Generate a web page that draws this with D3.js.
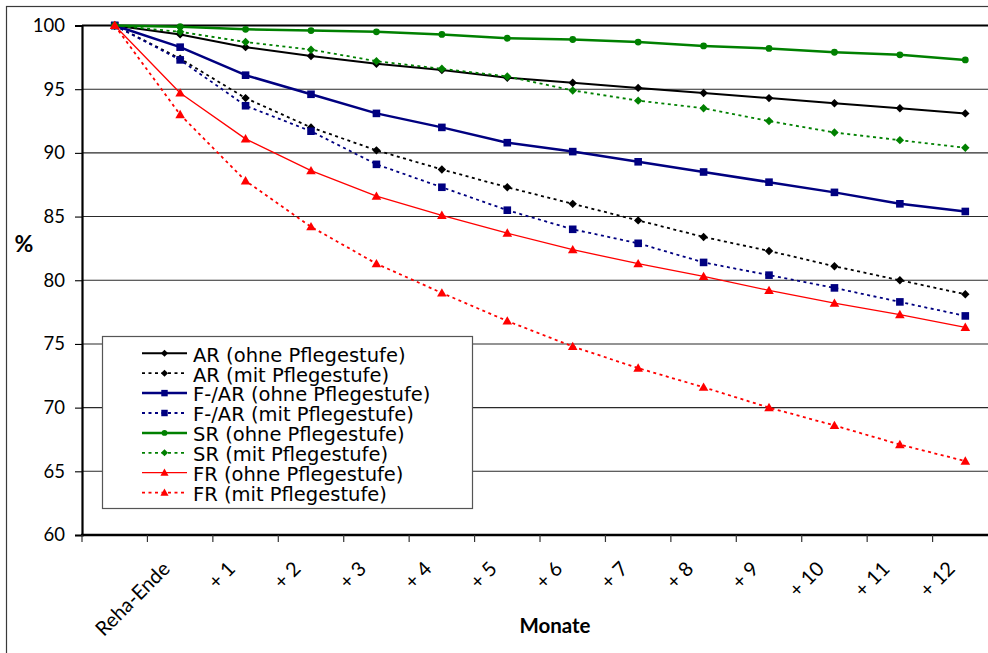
<!DOCTYPE html>
<html>
<head>
<meta charset="utf-8">
<script src="https://cdn.jsdelivr.net/npm/d3@7"></script>
<style>
  html, body { margin: 0; padding: 0; background: #fff; }
  svg { display: block; font-family: Lato, "Open Sans", sans-serif; }
</style>
</head>
<body>
<svg id="chart" width="988" height="653"></svg>
<script>
// ---- data ----
const categories = ["", "Reha-Ende", "+ 1", "+ 2", "+ 3", "+ 4", "+ 5", "+ 6", "+ 7", "+ 8", "+ 9", "+ 10", "+ 11", "+ 12"];
const yTicks = [60, 65, 70, 75, 80, 85, 90, 95, 100];
const seriesNames = [
  "AR (ohne Pflegestufe)", "AR (mit Pflegestufe)",
  "F-/AR (ohne Pflegestufe)", "F-/AR (mit Pflegestufe)",
  "SR (ohne Pflegestufe)", "SR (mit Pflegestufe)",
  "FR (ohne Pflegestufe)", "FR (mit Pflegestufe)"
];
const arOhne  = [100, 99.3, 98.3, 97.6, 97.0, 96.5, 95.9, 95.5, 95.1, 94.7, 94.3, 93.9, 93.5, 93.1];
const arMit   = [100, 97.4, 94.3, 92.0, 90.2, 88.7, 87.3, 86.0, 84.7, 83.4, 82.3, 81.1, 80.0, 78.9];
const farOhne = [100, 98.3, 96.1, 94.6, 93.1, 92.0, 90.8, 90.1, 89.3, 88.5, 87.7, 86.9, 86.0, 85.4];
const farMit  = [100, 97.3, 93.7, 91.7, 89.1, 87.3, 85.5, 84.0, 82.9, 81.4, 80.4, 79.4, 78.3, 77.2];
const srOhne  = [100, 99.9, 99.7, 99.6, 99.5, 99.3, 99.0, 98.9, 98.7, 98.4, 98.2, 97.9, 97.7, 97.3];
const srMit   = [100, 99.5, 98.7, 98.1, 97.2, 96.6, 96.0, 94.9, 94.1, 93.5, 92.5, 91.6, 91.0, 90.4];
const frOhne  = [100, 94.7, 91.1, 88.6, 86.6, 85.1, 83.7, 82.4, 81.3, 80.3, 79.2, 78.2, 77.3, 76.3];
const frMit   = [100, 93.0, 87.8, 84.2, 81.3, 79.0, 76.8, 74.8, 73.1, 71.6, 70.0, 68.6, 67.1, 65.8];

// ---- styles ----
const styles = [
  {values: arOhne,  color: "#000000", width: 2,   dash: null,    marker: "diamond", ms: 4.2},
  {values: arMit,   color: "#000000", width: 1.8, dash: "3,3.5", marker: "diamond", ms: 4.2},
  {values: farOhne, color: "#000080", width: 2.5, dash: null,    marker: "square",  ms: 3.8},
  {values: farMit,  color: "#000080", width: 1.8, dash: "3,3.5", marker: "square",  ms: 3.8},
  {values: srOhne,  color: "#008000", width: 2.5, dash: null,    marker: "circle",  ms: 3.4},
  {values: srMit,   color: "#008000", width: 1.8, dash: "3,3.5", marker: "diamond", ms: 4.2},
  {values: frOhne,  color: "#ff0000", width: 1.3, dash: null,    marker: "triangle",ms: 4.8},
  {values: frMit,   color: "#ff0000", width: 1.8, dash: "3,3.5", marker: "triangle",ms: 4.8}
];

function markerPath(type, r) {
  switch (type) {
    case "diamond": return `M0,${-r}L${r},0L0,${r}L${-r},0Z`;
    case "square": return `M${-r},${-r}H${r}V${r}H${-r}Z`;
    case "circle": return `M${r},0A${r},${r} 0 1,1 ${-r},0A${r},${r} 0 1,1 ${r},0Z`;
    case "triangle": return `M0,${-r}L${r},${r*0.75}L${-r},${r*0.75}Z`;
  }
}

const svg = d3.select("#chart");
const plotL = 82, plotR = 82 + 14 * 65.43, plotT = 25.5, plotB = 535;

// outer chart border
svg.append("rect").attr("x", 6.5).attr("y", 6.5).attr("width", 1100).attr("height", 700)
  .attr("fill", "#fff").attr("stroke", "#3a3a3a").attr("stroke-width", 1.2);

const x = d3.scalePoint().domain(categories).range([plotL, plotR]).padding(0.5);
const xb = d3.scaleBand().domain(categories).range([plotL, plotR]).paddingInner(0).paddingOuter(0);
const y = d3.scaleLinear().domain([60, 100]).range([plotB, plotT]);

// gridlines
svg.append("g").selectAll("line").data(yTicks.filter(t => t > 60 && t < 100)).join("line")
  .attr("x1", plotL).attr("x2", plotR).attr("y1", d => y(d)).attr("y2", d => y(d))
  .attr("stroke", "#2a2a2a").attr("stroke-width", 1.1);

// top border line
svg.append("line").attr("x1", plotL).attr("x2", plotR).attr("y1", y(100)).attr("y2", y(100))
  .attr("stroke", "#000").attr("stroke-width", 2);

// y axis
const yAxis = svg.append("g").attr("transform", `translate(${plotL},0)`)
  .call(d3.axisLeft(y).tickValues(yTicks).tickSize(7).tickPadding(10).tickFormat(d3.format("d")));
yAxis.select(".domain").attr("stroke", "#000").attr("stroke-width", 2.2);
yAxis.selectAll(".tick line").attr("stroke", "#000").attr("stroke-width", 1.1);
yAxis.selectAll(".tick text").attr("font-size", 18.5).attr("fill", "#000")
  .attr("font-family", "Lato, sans-serif");

// x axis line
svg.append("line").attr("x1", plotL - 1).attr("x2", plotR).attr("y1", plotB).attr("y2", plotB)
  .attr("stroke", "#000").attr("stroke-width", 2.4);
// x ticks at band boundaries
const bounds = categories.map(c => xb(c)).concat([plotR]);
svg.append("g").selectAll("line").data(bounds).join("line")
  .attr("x1", d => d).attr("x2", d => d).attr("y1", plotB).attr("y2", plotB + 7)
  .attr("stroke", "#333").attr("stroke-width", 1.2);
// x labels
svg.append("g").selectAll("text").data(categories.filter(c => c !== "")).join("text")
  .attr("transform", d => `translate(${x(d) - 9},${plotB + 35}) rotate(-45)`)
  .attr("text-anchor", "end")
  .attr("font-size", 20).attr("fill", "#000")
  .text(d => d);

// series lines + markers
const line = d3.line().x((d, i) => x(categories[i])).y(d => y(d));
styles.forEach(s => {
  const g = svg.append("g");
  g.append("path").datum(s.values).attr("d", line)
    .attr("fill", "none").attr("stroke", s.color).attr("stroke-width", s.width)
    .attr("stroke-dasharray", s.dash).attr("stroke-linejoin", "round");
  g.selectAll("path.m").data(s.values).join("path").attr("class", "m")
    .attr("transform", (d, i) => `translate(${x(categories[i])},${y(d)})`)
    .attr("d", markerPath(s.marker, s.ms)).attr("fill", s.color);
});

// axis titles
svg.append("text").attr("x", 24).attr("y", 252).attr("text-anchor", "middle")
  .attr("font-size", 23).attr("font-weight", "bold").text("%");
svg.append("text").attr("x", 555).attr("y", 633).attr("text-anchor", "middle")
  .attr("font-size", 20.5).attr("font-weight", "bold").text("Monate");

// legend
const lg = svg.append("g");
lg.append("rect").attr("x", 102.5).attr("y", 336.5).attr("width", 370).attr("height", 172)
  .attr("fill", "#fff").attr("stroke", "#555").attr("stroke-width", 1.2);
seriesNames.forEach((name, i) => {
  const s = styles[i];
  const ly = 353.3 + i * 19.9;
  lg.append("line").attr("x1", 142).attr("x2", 187).attr("y1", ly).attr("y2", ly)
    .attr("stroke", s.color).attr("stroke-width", s.width).attr("stroke-dasharray", s.dash);
  lg.append("path").attr("transform", `translate(164.5,${ly})`)
    .attr("d", markerPath(s.marker, s.ms * 0.85)).attr("fill", s.color);
  lg.append("text").attr("x", 193).attr("y", ly + 8.3).attr("font-size", 19.5)
    .attr("font-family", "'DejaVu Sans', sans-serif").attr("fill", "#000")
    .text(name);
});
</script>
</body>
</html>
